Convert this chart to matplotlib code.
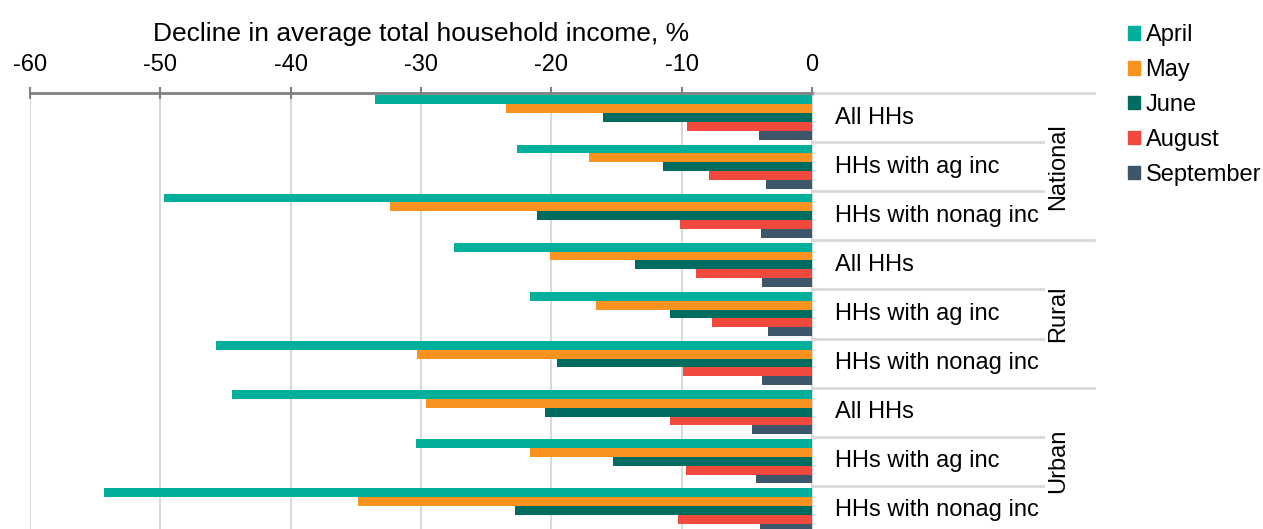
import numpy as np
import matplotlib.pyplot as plt
from matplotlib.patches import Patch

plt.rcParams['font.family'] = ['Liberation Sans', 'DejaVu Sans']
plt.rcParams['axes.unicode_minus'] = False

groups = ['National', 'Rural', 'Urban']
categories = ['All HHs', 'HHs with ag inc', 'HHs with nonag inc']
months = ['April', 'May', 'June', 'August', 'September']
colors = ['#02AF9B', '#F7931E', '#006B5F', '#EF4A3D', '#3E5669']

# one row per group/category (National, Rural, Urban x All, ag, nonag)
april = [-33.5, -22.6, -49.7, -27.5, -21.6, -45.7, -44.5, -30.4, -54.3]
may = [-23.5, -17.1, -32.4, -20.1, -16.6, -30.3, -29.6, -21.6, -34.8]
june = [-16.0, -11.4, -21.1, -13.6, -10.9, -19.6, -20.5, -15.3, -22.8]
august = [-9.6, -7.9, -10.1, -8.9, -7.7, -9.9, -10.9, -9.7, -10.3]
september = [-4.1, -3.5, -3.9, -3.8, -3.4, -3.8, -4.6, -4.3, -4.0]
series = [april, may, june, august, september]

fig = plt.figure(figsize=(12.63, 5.29), dpi=100)
ax = fig.add_axes([30 / 1263, -0.011, 782 / 1263, 0.835])

n = len(april)
y = np.arange(n)
bh = 0.181
for i, (vals, c, m) in enumerate(zip(series, colors, months)):
    ax.barh(y + (i - 2) * bh, vals, height=bh, color=c, label=m, zorder=3)

ax.set_xlim(-60, 0)
ax.set_ylim(n - 0.5, -0.5)
ax.set_xticks(np.arange(-60, 1, 10))
ax.xaxis.tick_top()
ax.xaxis.set_label_position('top')
ax.set_xlabel('Decline in average total household income, %', fontsize=19, labelpad=9)
ax.tick_params(axis='x', direction='inout', length=9, width=1.5, color='#808080',
               labelsize=17, pad=8)
ax.set_yticks([])
ax.grid(axis='x', color='#D9D9D9', linewidth=1.5, zorder=0)
for s in ['left', 'bottom', 'right']:
    ax.spines[s].set_visible(False)
ax.spines['top'].set_color('#808080')
ax.spines['top'].set_linewidth(2)
ax.axvline(0, color='#D9D9D9', linewidth=1.5, zorder=2, clip_on=False)

# category labels and separators on the right of the axis
for k in range(n):
    ax.text(1.75, k, categories[k % 3], fontsize=17, va='center', ha='left', clip_on=False)
for k in range(n + 1):
    x_end = 21.6 if k % 3 == 0 else 17.7
    ax.plot([0, x_end], [k - 0.5, k - 0.5], color='#D9D9D9', linewidth=2,
            clip_on=False, zorder=1)
for g, name in enumerate(groups):
    ax.text(18.9, g * 3 + 1, name, fontsize=17, rotation=90, va='center', ha='center',
            clip_on=False)

handles = [Patch(color=c) for c in colors]
fig.legend(handles, months, loc='upper left', bbox_to_anchor=(1109 / 1263, 0.99),
           frameon=False, fontsize=17, handlelength=0.5, handleheight=0.5,
           handletextpad=0.25, labelspacing=0.55, borderaxespad=0.4)

fig.savefig('out.png', dpi=100)
